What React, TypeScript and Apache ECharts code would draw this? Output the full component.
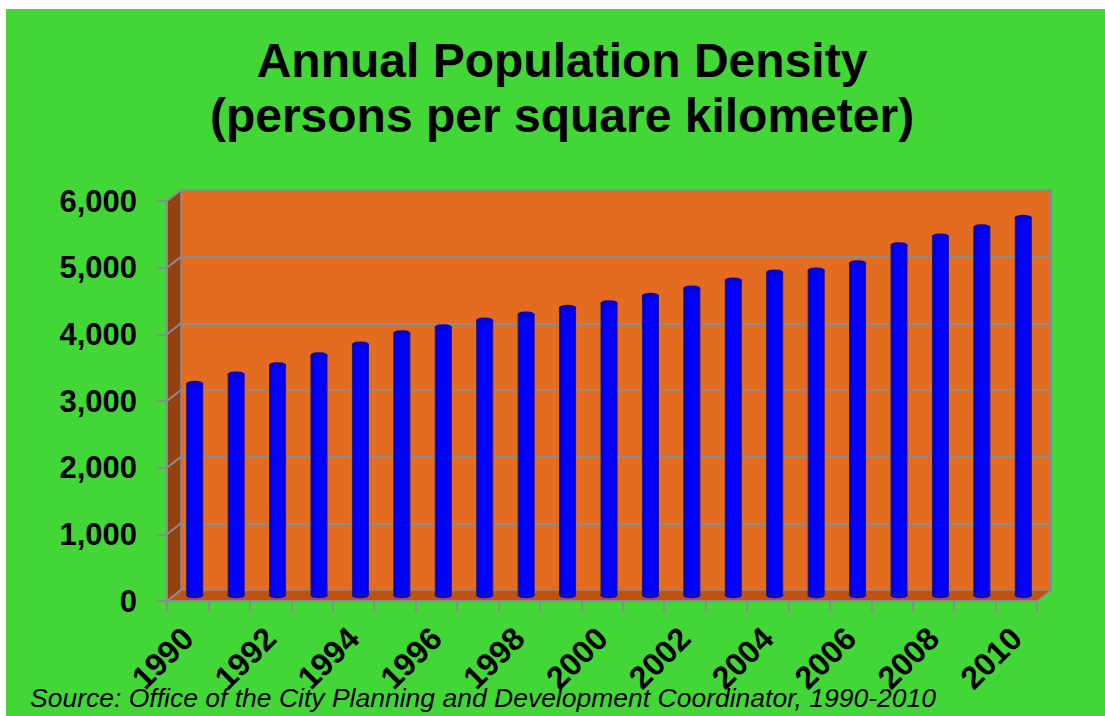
import React, { useEffect, useRef } from "react";
import * as echarts from "echarts";

const years = [
  "1990", "1991", "1992", "1993", "1994", "1995", "1996", "1997", "1998", "1999", "2000",
  "2001", "2002", "2003", "2004", "2005", "2006", "2007", "2008", "2009", "2010",
];
const density = [
  3180, 3320, 3460, 3610, 3770, 3940, 4030, 4130, 4220, 4320, 4390,
  4500, 4610, 4730, 4850, 4880, 4990, 5260, 5390, 5530, 5670,
];
const yTicks = [0, 1000, 2000, 3000, 4000, 5000, 6000];
const titleLines = ["Annual Population Density", "(persons per square kilometer)"];
const sourceText = "Source: Office of the City Planning and Development Coordinator, 1990-2010";

const FONT = "'Liberation Sans', Arial, Helvetica, sans-serif";
const GREEN = "#42D736";
const ORANGE = "#E46C20";
const SIDE = "#93420F";
const FLOOR = "#C2510C";
const GREY = "#8C8C8C";
const EDGE = "#7C8CA4";

// 3D box geometry (back wall / front plane)
const W = 870;
const H = 400;
const back = { left: 181, top: 190 };
const front = { left: 167, top: 201 };
const mid = { left: 174, top: 195.5 };

export default function App() {
  const ref = useRef<HTMLDivElement>(null);
  useEffect(() => {
    if (!ref.current) return;
    const chart = echarts.init(ref.current, null, { renderer: "svg" });
    const yMax = yTicks[yTicks.length - 1];
    const sideLines = yTicks.map((v) => {
      const yb = back.top + H * (1 - v / yMax);
      const yf = front.top + H * (1 - v / yMax);
      return {
        type: "line",
        z: 3,
        shape: { x1: front.left, y1: yf, x2: back.left, y2: yb },
        style: { stroke: GREY, lineWidth: 2 },
      };
    });
    const option: any = {
      animation: false,
      backgroundColor: "#ffffff",
      title: {
        text: titleLines.join("\n"),
        left: 557,
        top: 28,
        textAlign: "center",
        textStyle: { fontFamily: FONT, fontSize: 48, fontWeight: "bold", color: "#000", lineHeight: 55 },
      },
      graphic: [
        { type: "rect", z: -10, shape: { x: 6, y: 9, width: 1105, height: 716 }, style: { fill: GREEN } },
        {
          type: "polygon",
          z: 1,
          shape: {
            points: [
              [front.left, front.top],
              [back.left, back.top],
              [back.left, back.top + H],
              [front.left, front.top + H],
            ],
          },
          style: { fill: SIDE, stroke: EDGE, lineWidth: 1.5 },
        },
        {
          type: "polygon",
          z: 1,
          shape: {
            points: [
              [front.left, front.top + H],
              [back.left, back.top + H],
              [back.left + W, back.top + H],
              [front.left + W, front.top + H],
            ],
          },
          style: { fill: FLOOR, stroke: EDGE, lineWidth: 1.5 },
        },
        ...sideLines,
        {
          type: "text",
          z: 10,
          left: 30,
          top: 684,
          style: { text: sourceText, font: `italic 26.5px ${FONT}`, fill: "#000" },
        },
      ],
      grid: [
        {
          left: back.left, top: back.top, width: W, height: H,
          show: true, backgroundColor: ORANGE, borderColor: EDGE, borderWidth: 2,
        },
        { left: front.left, top: front.top, width: W, height: H },
        { left: mid.left, top: mid.top, width: W, height: H },
      ],
      xAxis: [
        {
          type: "category", gridIndex: 0, data: years,
          axisLine: { show: false }, axisTick: { show: false }, axisLabel: { show: false },
        },
        {
          type: "category", gridIndex: 1, data: years, z: 4,
          axisLine: { show: true, lineStyle: { color: GREY, width: 2 } },
          axisTick: { show: true, length: 10, interval: 0, lineStyle: { color: GREY, width: 2 } },
          axisLabel: {
            interval: 1, rotate: 45, margin: 32, color: "#000",
            fontFamily: FONT, fontSize: 32, fontWeight: "bold",
          },
        },
        {
          type: "category", gridIndex: 2, data: years,
          axisLine: { show: false }, axisTick: { show: false }, axisLabel: { show: false },
        },
      ],
      yAxis: [
        {
          type: "value", gridIndex: 0, min: 0, max: 6000, interval: 1000,
          axisLine: { show: false }, axisTick: { show: false }, axisLabel: { show: false },
          splitLine: { show: true, lineStyle: { color: GREY, width: 2 } },
        },
        {
          type: "value", gridIndex: 1, min: 0, max: 6000, interval: 1000, z: 4,
          axisLine: { show: true, lineStyle: { color: GREY, width: 2 } },
          axisTick: { show: true, length: 10, lineStyle: { color: GREY, width: 2 } },
          splitLine: { show: false },
          axisLabel: {
            margin: 30, color: "#000", fontFamily: FONT, fontSize: 31, fontWeight: "bold",
            formatter: (v: number) => v.toLocaleString("en-US"),
          },
        },
        {
          type: "value", gridIndex: 2, min: 0, max: 6000, interval: 1000,
          axisLine: { show: false }, axisTick: { show: false }, axisLabel: { show: false },
          splitLine: { show: false },
        },
      ],
      series: [
        {
          type: "bar",
          xAxisIndex: 2,
          yAxisIndex: 2,
          data: density,
          barWidth: 17,
          z: 5,
          itemStyle: {
            color: new echarts.graphic.LinearGradient(0, 0, 1, 0, [
              { offset: 0, color: "#0000B8" },
              { offset: 0.2, color: "#0000FF" },
              { offset: 0.8, color: "#0000FF" },
              { offset: 1, color: "#0000B8" },
            ]),
            borderColor: "#1C1C8A",
            borderWidth: 1,
          },
        },
        {
          type: "pictorialBar",
          xAxisIndex: 2,
          yAxisIndex: 2,
          data: density,
          symbol: "circle",
          symbolSize: [17, 6],
          symbolPosition: "start",
          symbolOffset: [0, "50%"],
          z: 4,
          itemStyle: { color: "#0000E6", borderColor: "#1C1C8A", borderWidth: 1 },
        },
        {
          type: "pictorialBar",
          xAxisIndex: 2,
          yAxisIndex: 2,
          data: density,
          symbol: "circle",
          symbolSize: [17, 6],
          symbolPosition: "end",
          symbolOffset: [0, "-50%"],
          z: 6,
          itemStyle: { color: "#0000D0", borderColor: "#1C1C8A", borderWidth: 1 },
        },
      ],
    };
    chart.setOption(option);
    return () => chart.dispose();
  }, []);
  return (
    <div
      ref={ref}
      style={{ position: "absolute", left: 0, top: 0, width: 1105, height: 716 }}
    />
  );
}
